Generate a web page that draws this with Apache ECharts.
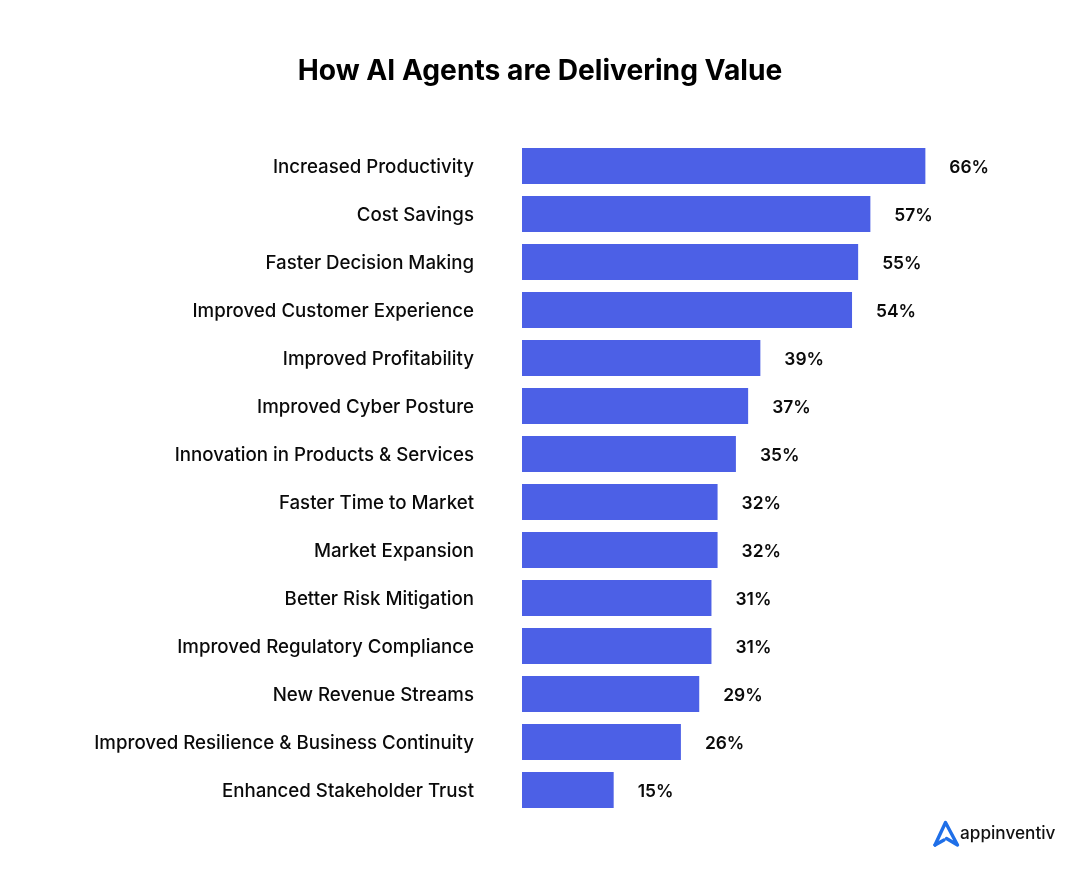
<!DOCTYPE html>
<html>
<head>
<meta charset="utf-8">
<title>How AI Agents are Delivering Value</title>
<style>
html, body { margin: 0; padding: 0; background: #fff; }
#chart { width: 1080px; height: 871px; }
</style>
<script src="https://cdn.jsdelivr.net/npm/echarts@6/dist/echarts.min.js"></script>
</head>
<body>
<div id="chart"></div>
<script>
var titleText = 'How AI Agents are Delivering Value';
var categories = [
    'Increased Productivity',
    'Cost Savings',
    'Faster Decision Making',
    'Improved Customer Experience',
    'Improved Profitability',
    'Improved Cyber Posture',
    'Innovation in Products & Services',
    'Faster Time to Market',
    'Market Expansion',
    'Better Risk Mitigation',
    'Improved Regulatory Compliance',
    'New Revenue Streams',
    'Improved Resilience & Business Continuity',
    'Enhanced Stakeholder Trust'
];
var values = [66, 57, 55, 54, 39, 37, 35, 32, 32, 31, 31, 29, 26, 15];

var fontName = 'Inter';
var chart = echarts.init(document.getElementById('chart'));

chart.setOption({
    animation: false,
    backgroundColor: '#ffffff',
    title: {
        text: titleText,
        left: 'center',
        top: 53,
        textStyle: { fontFamily: fontName, fontSize: 28.2, fontWeight: 700, color: '#000000' }
    },
    grid: { left: 522, right: 0, top: 142, height: 672 },
    xAxis: { type: 'value', min: 0, max: 91.3, show: false },
    yAxis: {
        type: 'category',
        inverse: true,
        data: categories,
        axisLine: { show: false },
        axisTick: { show: false },
        axisLabel: {
            margin: 48,
            // nudges the text about 2px below the bar centre
            verticalAlign: 'top',
            lineHeight: 3,
            fontFamily: fontName,
            fontSize: 18.7,
            fontWeight: 500,
            color: '#0a0a0a'
        }
    },
    series: [{
        type: 'bar',
        data: values,
        barWidth: 36,
        itemStyle: { color: '#4c60e6' },
        label: {
            show: true,
            position: 'right',
            distance: 24,
            offset: [0, 2],
            formatter: '{c}%',
            fontFamily: fontName,
            fontSize: 17.4,
            fontWeight: 600,
            color: '#0a0a0a'
        }
    }],
    // logo, bottom right
    graphic: [{
        type: 'polyline',
        shape: { points: [[935, 845], [945.5, 822.5], [957.5, 845], [946.5, 838.5]] },
        style: { stroke: '#1f6fe8', lineWidth: 3.4, fill: null, lineJoin: 'round', lineCap: 'round' }
    }, {
        type: 'polyline',
        shape: { points: [[935, 845], [944, 840]] },
        style: { stroke: '#1f6fe8', lineWidth: 3.4, fill: null, lineCap: 'round' }
    }, {
        type: 'text',
        left: 960,
        top: 825,
        style: { text: 'appinventiv', fontFamily: fontName, fontSize: 17.2, fontWeight: 500, fill: '#111111' }
    }]
});
</script>
</body>
</html>
